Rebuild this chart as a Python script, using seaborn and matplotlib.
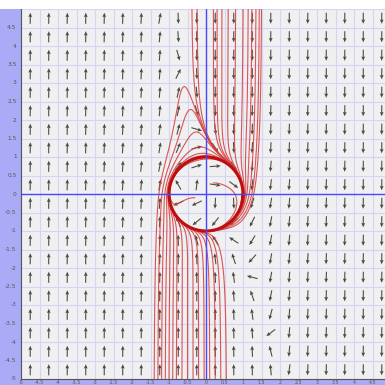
import numpy as np
import pandas as pd
import seaborn as sns
import matplotlib.pyplot as plt
from matplotlib.patches import Rectangle

# phase system: clockwise limit cycle on the unit circle, vertical far field
K_RADIAL = 1.0
C_FAR = 3.0
A_TILT = 0.32
B_SHIFT = 0.45

# streamline seeds (start point)
seed_x = [-1.4, -1.3, -1.2, -1.1, -1.0, -0.9, -0.8, -0.65, -0.5, -0.35,
          -0.2, -0.05, 0.1, 0.25, 0.4, 0.55,
          -0.38, -0.24, 0.2, 0.3, 0.43, 0.6, 0.8, 1.0, 1.14, 1.24, 1.35, 1.44, 1.5,
          -0.3, 0.2]
seed_y = [-5.0] * 16 + [5.0] * 13 + [-0.1, 0.3]

# the closed orbit itself
cycle_x = [1.0]
cycle_y = [0.0]

X_TICKS = [-5, -4.5, -4, -3.5, -3, -2.5, -2, -1.5, -1, -0.5, 0, 0.5, 1, 1.5, 2, 2.5, 3, 3.5, 4, 4.5]
Y_TICKS = [4.5, 4, 3.5, 3, 2.5, 2, 1.5, 1, 0.5, 0, -0.5, -1, -1.5, -2, -2.5, -3, -3.5, -4, -4.5, -5]


def field(x, y):
    r2 = x * x + y * y
    u = y + K_RADIAL * x * (1 - r2)
    v = -x + K_RADIAL * y * (1 - r2) - C_FAR * (x + A_TILT * y - B_SHIFT) * (r2 - 1) * r2
    return u, v


def unit(x, y):
    u, v = field(x, y)
    n = np.hypot(u, v) + 1e-12
    return u / n, v / n


def trace(x0, y0, ds=0.01, steps=3000):
    pts = [(x0, y0)]
    x, y = x0, y0
    for _ in range(steps):
        k1 = unit(x, y)
        k2 = unit(x + 0.5 * ds * k1[0], y + 0.5 * ds * k1[1])
        k3 = unit(x + 0.5 * ds * k2[0], y + 0.5 * ds * k2[1])
        k4 = unit(x + ds * k3[0], y + ds * k3[1])
        x += ds * (k1[0] + 2 * k2[0] + 2 * k3[0] + k4[0]) / 6
        y += ds * (k1[1] + 2 * k2[1] + 2 * k3[1] + k4[1]) / 6
        pts.append((x, y))
        if abs(x) > 5.2 or abs(y) > 5.2:
            break
    return pts


def to_frame(xs, ys, steps):
    rows = []
    for i, (sx, sy) in enumerate(zip(xs, ys)):
        for px, py in trace(sx, sy, steps=steps):
            rows.append({"curve": i, "x": px, "y": py})
    return pd.DataFrame(rows)


curves = to_frame(seed_x, seed_y, 3000)
cycle = to_frame(cycle_x, cycle_y, 650)

sns.set_style("white")
W = 385
fig = plt.figure(figsize=(3.85, 3.85), dpi=100)
fig.patch.set_facecolor("white")

left, top, bottom = 21, 9, 379
ax = fig.add_axes([left / W, (W - bottom) / W, (W - left) / W, (bottom - top) / W])
ax.set_facecolor("#f0f0f0")
ax.set_xlim(-5, -5 + (W - left) / 37.0)
ax.set_ylim(-5, 5)

for g in np.arange(-5, 5.01, 0.5):
    ax.axvline(g, color="#d4d4f6", lw=0.8, zorder=0)
    ax.axhline(g, color="#d4d4f6", lw=0.8, zorder=0)

cx = np.arange(-4.75, 5, 0.5)
gx, gy = np.meshgrid(cx, cx)
gu, gv = unit(gx, gy)
ax.quiver(gx, gy, gu, gv, pivot="middle", angles="xy", scale_units="xy", scale=1 / 0.3,
          width=0.003, headwidth=3.5, headlength=4, headaxislength=3.5,
          color="#4a4a4a", zorder=2)

sns.lineplot(data=curves, x="x", y="y", units="curve", estimator=None, sort=False,
             color="#d63a3a", lw=0.8, alpha=0.85, ax=ax, zorder=3)
sns.lineplot(data=cycle, x="x", y="y", units="curve", estimator=None, sort=False,
             color="#c00d0d", lw=2.2, ax=ax, zorder=3)

ax.axvline(0, color="#4848ff", lw=1.0, zorder=4)
ax.axhline(0, color="#4848ff", lw=1.0, zorder=4)

ax.set_xticks([])
ax.set_yticks([])
ax.set_xlabel("")
ax.set_ylabel("")
for s in ax.spines.values():
    s.set_visible(False)
ax.spines["left"].set_visible(True)
ax.spines["bottom"].set_visible(True)
ax.spines["left"].set_color("#555555")
ax.spines["bottom"].set_color("#555555")

# lavender axis strips
fig.patches.append(Rectangle((0, 0), left / W, (W - top) / W, transform=fig.transFigure,
                             facecolor="#aaaaf6", edgecolor="none", zorder=-1))
fig.patches.append(Rectangle((0, 0), 1, (W - bottom) / W, transform=fig.transFigure,
                             facecolor="#aaaaf6", edgecolor="none", zorder=-1))

for t in Y_TICKS:
    ax.text(-5.12, t, f"{t:g}", ha="right", va="center", fontsize=4.2, color="#555555",
            clip_on=False)
for t in X_TICKS:
    fig.text((left + (t + 5) * 37.0) / W, 2.6 / W, f"{t:g}", ha="center", va="center",
             fontsize=3.4, color="#555555")

fig.savefig("out.png", dpi=100)
